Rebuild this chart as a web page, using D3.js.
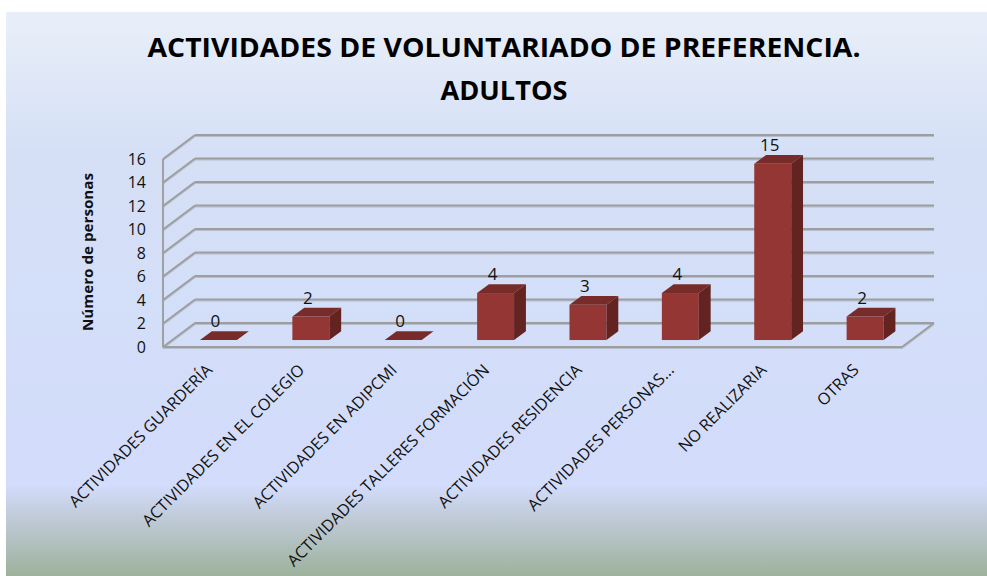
<!DOCTYPE html>
<html>
<head>
<meta charset="utf-8">
<script src="https://cdn.jsdelivr.net/npm/d3@7"></script>
<style>
  html, body { margin: 0; padding: 0; background: #fff; }
  svg { display: block; font-family: "Open Sans", "Noto Sans", sans-serif; }
</style>
</head>
<body>
<svg id="chart" width="987" height="576"></svg>
<script>
// datos
var categorias = [
  'ACTIVIDADES GUARDERÍA',
  'ACTIVIDADES EN EL COLEGIO',
  'ACTIVIDADES EN ADIPCMI',
  'ACTIVIDADES TALLERES FORMACIÓN',
  'ACTIVIDADES RESIDENCIA',
  'ACTIVIDADES PERSONAS...',
  'NO REALIZARIA',
  'OTRAS'
]
var valores = [0, 2, 0, 4, 3, 4, 15, 2]
var ticksY = [0, 2, 4, 6, 8, 10, 12, 14, 16]
var tituloLineas = ['ACTIVIDADES DE VOLUNTARIADO DE PREFERENCIA.', 'ADULTOS']
var tituloEje = 'Número de personas'

var svg = d3.select('#chart')

// fondo degradado
var defs = svg.append('defs')
var grad = defs.append('linearGradient')
  .attr('id', 'fondo')
  .attr('x1', 0).attr('y1', 0).attr('x2', 0).attr('y2', 1)
grad.append('stop').attr('offset', '0').attr('stop-color', '#e9eff9')
grad.append('stop').attr('offset', '0.25').attr('stop-color', '#d5e0f6')
grad.append('stop').attr('offset', '0.84').attr('stop-color', '#d2dcfb')
grad.append('stop').attr('offset', '0.9').attr('stop-color', '#bfcad6')
grad.append('stop').attr('offset', '1').attr('stop-color', '#9db29c')

svg.append('rect')
  .attr('x', 6).attr('y', 12)
  .attr('width', 981).attr('height', 564)
  .attr('fill', 'url(#fondo)')

// geometria 3D
var x0 = 163, x1 = 902
var prof = {dx: 32, dy: -24}
var f0 = 0.29, f1 = 0.66

var y = d3.scaleLinear().domain([0, 16]).range([347, 159])
var x = d3.scaleBand().domain(categorias).range([x0, x1])
  .paddingInner(0.6).paddingOuter(0.3)

var gris = '#9e9e9e'

var paredes = svg.append('g')

// sombra de las lineas
function linea(g, xa, ya, xb, yb) {
  g.append('line')
    .attr('x1', xa).attr('y1', ya + 1.4).attr('x2', xb).attr('y2', yb + 1.4)
    .attr('stroke', '#b5bece').attr('stroke-width', 1.3)
  g.append('line')
    .attr('x1', xa).attr('y1', ya).attr('x2', xb).attr('y2', yb)
    .attr('stroke', gris).attr('stroke-width', 1.9)
}

ticksY.forEach(function(t) {
  // pared del fondo
  linea(paredes, x0 + prof.dx, y(t) + prof.dy, x1 + prof.dx, y(t) + prof.dy)
  // pared izquierda
  linea(paredes, x0, y(t), x0 + prof.dx, y(t) + prof.dy)
})
// eje vertical frontal
linea(paredes, x0, y(0), x0, y(16))
// suelo
linea(paredes, x0, y(0), x1, y(0))
linea(paredes, x1, y(0), x1 + prof.dx, y(0) + prof.dy)

// etiquetas eje Y
svg.append('g').selectAll('text')
  .data(ticksY)
  .enter()
  .append('text')
  .attr('x', 146)
  .attr('y', function(d) { return y(d) })
  .attr('dy', '0.36em')
  .attr('text-anchor', 'end')
  .attr('font-size', 16)
  .attr('fill', '#111')
  .text(function(d) { return d })

// titulo eje
svg.append('text')
  .attr('transform', 'translate(93,252) rotate(-90)')
  .attr('text-anchor', 'middle')
  .attr('font-size', 14.5)
  .attr('font-weight', 'bold')
  .attr('fill', '#111')
  .attr('textLength', 158)
  .attr('lengthAdjust', 'spacingAndGlyphs')
  .text(tituloEje)

// barras
var bw = x.bandwidth()
var ddx = (f1 - f0) * prof.dx, ddy = (f1 - f0) * prof.dy
var datos = categorias.map(function(c, i) { return {cat: c, val: valores[i]} })

var barras = svg.append('g').selectAll('g')
  .data(datos)
  .enter()
  .append('g')

barras.append('rect')
  .attr('x', function(d) { return x(d.cat) + f0 * prof.dx })
  .attr('y', function(d) { return y(d.val) + f0 * prof.dy })
  .attr('width', bw)
  .attr('height', function(d) { return y(0) - y(d.val) })
  .attr('fill', '#943634')

barras.append('polygon')
  .attr('points', function(d) {
    var xl = x(d.cat) + f0 * prof.dx
    var yt = y(d.val) + f0 * prof.dy
    return [[xl, yt], [xl + bw, yt], [xl + bw + ddx, yt + ddy], [xl + ddx, yt + ddy]].join(' ')
  })
  .attr('fill', '#782c2a')

barras.append('polygon')
  .attr('points', function(d) {
    var xr = x(d.cat) + f0 * prof.dx + bw
    var yt = y(d.val) + f0 * prof.dy
    var yb = y(0) + f0 * prof.dy
    return [[xr, yt], [xr + ddx, yt + ddy], [xr + ddx, yb + ddy], [xr, yb]].join(' ')
  })
  .attr('fill', '#632321')

// etiquetas de valor
barras.append('text')
  .attr('x', function(d) { return x(d.cat) + f0 * prof.dx + bw / 2 - 3 })
  .attr('y', function(d) { return y(d.val) + f0 * prof.dy - 13 })
  .attr('text-anchor', 'middle')
  .attr('font-size', 17)
  .attr('fill', '#111')
  .text(function(d) { return d.val })

// etiquetas de categoria
svg.append('g').selectAll('text')
  .data(categorias)
  .enter()
  .append('text')
  .attr('transform', function(d) {
    return 'translate(' + (x(d) + bw / 2 + 4) + ',371) rotate(-45)'
  })
  .attr('text-anchor', 'end')
  .attr('font-size', 16.3)
  .attr('fill', '#111')
  .text(function(d) { return d })

// titulo
svg.append('g').selectAll('text')
  .data(tituloLineas)
  .enter()
  .append('text')
  .attr('x', 504)
  .attr('y', function(d, i) { return 57 + i * 43 })
  .attr('text-anchor', 'middle')
  .attr('font-size', 27.5)
  .attr('font-weight', 'bold')
  .attr('fill', '#000')
  .attr('textLength', function(d, i) { return i == 0 ? 713 : 127 })
  .attr('lengthAdjust', 'spacingAndGlyphs')
  .text(function(d) { return d })
</script>
</body>
</html>
